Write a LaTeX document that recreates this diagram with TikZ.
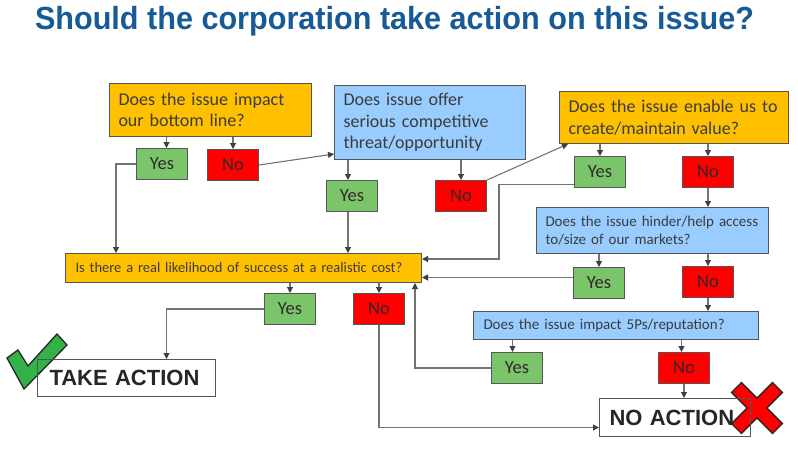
\documentclass[tikz,border=0pt]{standalone}
\usepackage{fontspec}
\setmainfont{Carlito}
\newfontfamily\titlefont[FakeStretch=0.956]{Liberation Sans}
\newfontfamily\actfont{Liberation Sans}
\usetikzlibrary{arrows.meta}
\definecolor{titleblue}{RGB}{22,90,150}
\definecolor{orng}{RGB}{255,192,0}
\definecolor{lblue}{RGB}{153,204,255}
\definecolor{grn}{RGB}{122,196,106}
\definecolor{rd}{RGB}{255,0,0}
\definecolor{txt}{RGB}{60,60,60}
\definecolor{anstxt}{RGB}{50,40,40}
\definecolor{edge}{RGB}{85,85,85}
\definecolor{conncol}{RGB}{115,115,115}
\definecolor{chk}{RGB}{51,178,72}
\begin{document}
\begin{tikzpicture}[x=1pt,y=-1pt,
  qbox/.style={draw=edge, line width=1pt, anchor=north west, inner xsep=9pt, inner ysep=0pt,
    align=left, text=txt, font=\fontsize{18}{21.5}\selectfont},
  ans/.style={draw=edge, line width=1pt, anchor=north west, inner sep=0pt, text=anstxt,
    font=\fontsize{18.5}{20}\selectfont, minimum width=51pt, minimum height=31pt},
  fin/.style={draw=edge, line width=1pt, anchor=north west, inner ysep=0pt, align=left,
    text=black!85, font=\actfont\bfseries\fontsize{22}{26}\selectfont},
  conn/.style={draw=conncol, line width=1.1pt,
    -{Triangle[length=6pt,width=6pt,color=black!75]}},
  symb/.style={line width=1.3pt, draw=black!85, line join=miter}
]
\fill[white] (0,0) rectangle (798,452);
\useasboundingbox (0,0) rectangle (798,452);

\node[anchor=base, text=titleblue, font=\titlefont\bfseries\fontsize{32}{36}\selectfont] (title) at (394.5,30)
  {Should the corporation take action on this issue?};

% marks (drawn below final boxes)
\draw[symb, fill=chk] (7,358) -- (18,350) -- (28,366) -- (57,334) -- (67,345) -- (24,389) -- cycle;
\draw[symb, fill=rd, shift={(757,408)}, rotate=45]
  (-7,29) -- (7,29) -- (7,7) -- (29,7) -- (29,-7) -- (7,-7) -- (7,-29) -- (-7,-29)
  -- (-7,-7) -- (-29,-7) -- (-29,7) -- (-7,7) -- cycle;

% question boxes
\node[qbox, fill=orng, text width=184pt, minimum height=53pt] (b1) at (109,83)
  {Does the issue impact\\our bottom line?};
\node[qbox, fill=lblue, text width=173pt, minimum height=74pt] (b2) at (334,85)
  {Does issue offer\\serious competitive\\threat/opportunity};
\node[qbox, fill=orng, text width=211pt, minimum height=52pt] (b3) at (559,91)
  {Does the issue enable us to\\create/maintain value?};
\node[qbox, fill=lblue, text width=214pt, minimum height=46pt, font=\fontsize{15}{18}\selectfont] (b4) at (536,207)
  {Does the issue hinder/help access\\to/size of our markets?};
\node[qbox, fill=orng, inner xsep=10pt, text width=336pt, minimum height=29pt, font=\fontsize{14.5}{17}\selectfont] (bar) at (65,253)
  {Is there a real likelihood of success at a realistic cost?};
\node[qbox, fill=lblue, inner xsep=10pt, text width=265pt, minimum height=28pt, font=\fontsize{15}{18}\selectfont] (b5) at (473,311)
  {Does the issue impact 5Ps/reputation?};

% answers
\node[ans, fill=grn] (y1) at (136,148) {Yes};
\node[ans, fill=rd]  (n1) at (207,149) {No};
\node[ans, fill=grn] (y2) at (326,180) {Yes};
\node[ans, fill=rd]  (n2) at (435,180) {No};
\node[ans, fill=grn] (y3) at (574,156) {Yes};
\node[ans, fill=rd]  (n3) at (682,156) {No};
\node[ans, fill=grn] (y4) at (573,267) {Yes};
\node[ans, fill=rd]  (n4) at (682,266) {No};
\node[ans, fill=grn] (y5) at (491,352) {Yes};
\node[ans, fill=rd]  (n5) at (658,352) {No};
\node[ans, fill=grn] (by) at (264,293) {Yes};
\node[ans, fill=rd]  (bn) at (353,293) {No};

% final boxes
\node[fin, text width=154pt, inner xsep=12pt, minimum height=37pt] (take) at (37,359) {TAKE ACTION};
\node[fin, text width=131pt, inner xsep=10pt, minimum height=38pt] (na) at (599,398) {NO ACTION};

% connectors
\draw[conn] ([xshift=4.5pt]y1.north |- b1.south) -- ([xshift=4.5pt]y1.north);
\draw[conn] (n1.north |- b1.south) -- (n1.north);
\draw[conn] (n1.east) -- ([yshift=6pt]b2.south west);
\draw[conn] ([xshift=-4pt]y2.north |- b2.south) -- ([xshift=-4pt]y2.north);
\draw[conn] (n2.north |- b2.south) -- (n2.north);
\draw[conn] (n2.north east) -- ([xshift=9pt]b3.south west);
\draw[conn] (y3.north |- b3.south) -- (y3.north);
\draw[conn] (n3.north |- b3.south) -- (n3.north);
\draw[conn] (n3.south) -- (n3.south |- b4.north);
\draw[conn] (y4.north |- b4.south) -- (y4.north);
\draw[conn] (n4.north |- b4.south) -- (n4.north);
\draw[conn] (n4.south) -- (n4.south |- b5.north);
\draw[conn] ([xshift=-4.5pt]y5.north |- b5.south) -- ([xshift=-4.5pt]y5.north);
\draw[conn] ([xshift=-2.5pt]n5.north |- b5.south) -- ([xshift=-2.5pt]n5.north);
\draw[conn] (n5.south) -- (n5.south |- na.north);
\draw[conn] (by.north |- bar.south) -- (by.north);
\draw[conn] (bn.north |- bar.south) -- (bn.north);
\draw[conn] (y1.west) -| ([xshift=51pt]bar.north west);
\draw[conn] ([xshift=-4pt]y2.south) -- ([xshift=-4pt]y2.south |- bar.north);
\coordinate (c1) at (499,259);
\draw[conn] ([yshift=-12.5pt]y3.west) -| (c1) -- (c1 -| bar.east);
\draw[conn] ([yshift=5.5pt]y4.west) -- ([yshift=5.5pt]y4.west -| bar.east);
\draw[conn] (y5.west) -| ([xshift=-7pt]bar.south east);
\draw[conn] (by.west) -| ([xshift=40pt]take.north);
\draw[conn] (bn.south) |- ([yshift=-10pt]na.west);
\end{tikzpicture}
\end{document}
